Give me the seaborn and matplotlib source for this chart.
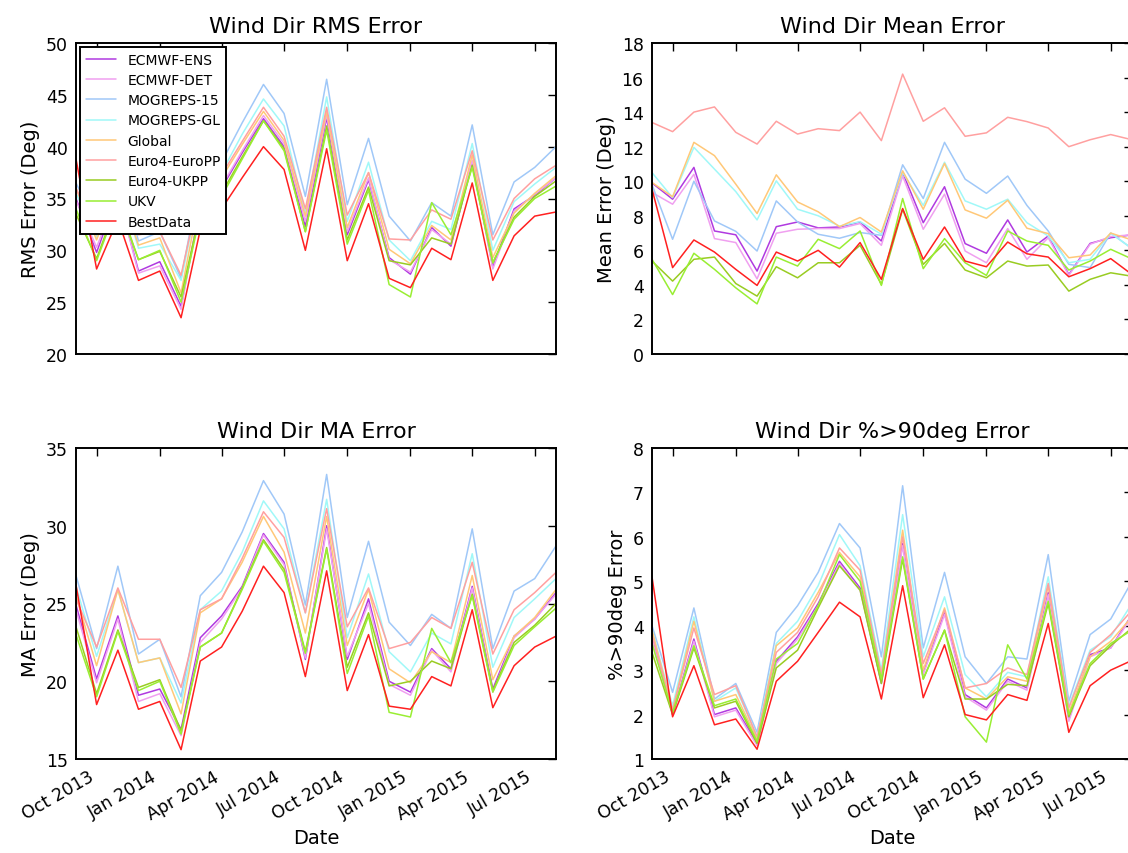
import pandas as pd
import matplotlib
matplotlib.use("Agg")
import matplotlib.pyplot as plt
import matplotlib.dates as mdates
from matplotlib.ticker import MultipleLocator
import seaborn as sns

# monthly verification dates
dates = pd.date_range("2013-09-01", "2015-08-01", freq="MS")

models = ["ECMWF-ENS", "ECMWF-DET", "MOGREPS-15", "MOGREPS-GL", "Global",
          "Euro4-EuroPP", "Euro4-UKPP", "UKV", "BestData"]
colors = ["#b03ae0", "#f0a0f0", "#a0c8f8", "#a0f8f8", "#ffc878",
          "#ffa0a0", "#99cc22", "#99ee33", "#ff2020"]

rms = {
    "ECMWF-ENS": [35.0, 29.8, 35.5, 28.0, 28.9, 24.6, 34.3, 36.0, 39.4, 42.7, 40.0, 32.3,
                  42.8, 31.5, 36.8, 29.3, 27.7, 32.2, 30.4, 38.5, 28.4, 34.0, 35.3, 37.0],
    "ECMWF-DET": [34.8, 30.3, 35.5, 27.8, 28.5, 24.3, 34.5, 36.2, 39.6, 43.0, 40.3, 32.8,
                  43.1, 31.8, 37.0, 29.1, 27.9, 32.0, 30.6, 38.7, 28.2, 33.8, 35.4, 37.0],
    "MOGREPS-15": [36.5, 32.5, 38.5, 30.9, 31.8, 27.3, 37.0, 38.5, 42.3, 46.0, 43.2, 35.2,
                   46.5, 34.4, 40.8, 33.3, 30.9, 34.6, 33.3, 42.1, 31.5, 36.6, 38.0, 40.0],
    "MOGREPS-GL": [35.5, 31.3, 37.0, 30.2, 30.6, 27.1, 36.0, 37.5, 41.2, 44.6, 42.0, 33.5,
                   44.8, 32.8, 38.5, 31.0, 29.0, 32.8, 32.0, 40.3, 30.0, 34.7, 36.4, 38.0],
    "Global": [36.0, 31.0, 36.5, 30.5, 31.2, 25.9, 35.5, 37.0, 40.2, 43.4, 40.6, 33.3,
               43.4, 32.2, 37.5, 30.1, 28.7, 32.4, 31.0, 39.2, 29.3, 33.6, 35.5, 37.2],
    "Euro4-EuroPP": [36.0, 31.5, 37.0, 31.5, 31.8, 27.6, 36.0, 37.3, 40.5, 43.8, 41.0, 34.0,
                     43.8, 33.4, 37.5, 31.1, 31.0, 33.9, 33.0, 39.6, 31.0, 35.0, 36.9, 38.2],
    "Euro4-UKPP": [33.5, 29.2, 34.8, 29.1, 29.9, 25.5, 33.8, 35.5, 39.0, 42.5, 39.8, 31.8,
                   42.0, 31.0, 36.1, 29.0, 28.6, 31.2, 30.6, 38.2, 28.8, 33.2, 35.2, 36.7],
    "UKV": [34.0, 29.0, 34.5, 29.1, 30.0, 25.0, 33.5, 35.2, 38.8, 42.5, 39.6, 31.8,
            41.6, 30.6, 35.8, 26.7, 25.5, 34.6, 31.5, 38.0, 28.8, 33.0, 35.0, 36.2],
    "BestData": [38.8, 28.2, 33.0, 27.1, 28.0, 23.5, 32.0, 34.0, 37.0, 40.0, 37.8, 30.0,
                 39.8, 29.0, 34.5, 27.3, 26.4, 30.2, 29.1, 36.5, 27.1, 31.4, 33.3, 33.7],
}

mean = {
    "ECMWF-ENS": [9.9, 8.96, 10.8, 7.12, 6.9, 4.8, 7.37, 7.64, 7.3, 7.35, 7.64, 6.54,
                  10.5, 7.6, 9.68, 6.39, 5.83, 7.76, 5.9, 6.83, 4.6, 6.4, 6.73, 6.9],
    "ECMWF-DET": [9.35, 8.67, 10.4, 6.68, 6.45, 4.35, 6.99, 7.22, 7.26, 7.26, 7.55, 6.29,
                  10.3, 7.22, 9.25, 5.96, 5.28, 7.26, 5.48, 6.73, 4.55, 6.35, 6.8, 6.9],
    "MOGREPS-15": [9.8, 6.64, 10.0, 7.7, 7.1, 5.96, 8.86, 7.64, 6.93, 6.7, 7.03, 6.87,
                   10.95, 9.0, 12.25, 10.12, 9.3, 10.3, 8.6, 7.12, 5.19, 5.0, 7.0, 6.1],
    "MOGREPS-GL": [10.5, 9.05, 11.96, 10.7, 9.4, 7.76, 10.02, 8.38, 8.0, 7.4, 7.66, 6.93,
                   10.5, 8.6, 11.1, 8.86, 8.38, 8.96, 7.6, 6.83, 5.28, 5.48, 7.0, 6.1],
    "Global": [9.93, 9.1, 12.25, 11.48, 9.83, 8.13, 10.37, 8.8, 8.23, 7.37, 7.9, 7.06,
               10.6, 8.38, 11.03, 8.34, 7.86, 8.9, 7.28, 6.97, 5.57, 5.73, 7.0, 6.6],
    "Euro4-EuroPP": [13.4, 12.87, 14.0, 14.3, 12.83, 12.15, 13.47, 12.73, 13.04, 12.93, 14.0, 12.35,
                     16.2, 13.47, 14.25, 12.6, 12.8, 13.7, 13.45, 13.08, 12.0, 12.4, 12.7, 12.4],
    "Euro4-UKPP": [5.38, 4.22, 5.48, 5.61, 4.08, 3.35, 5.05, 4.41, 5.28, 5.28, 6.29, 4.03,
                   8.38, 5.19, 6.4, 4.86, 4.41, 5.38, 5.09, 5.15, 3.64, 4.32, 4.7, 4.5],
    "UKV": [5.48, 3.44, 5.83, 4.9, 3.83, 2.9, 5.61, 5.09, 6.64, 6.1, 7.12, 3.97,
            9.0, 4.94, 6.68, 5.28, 4.55, 7.12, 6.54, 6.29, 4.86, 5.38, 6.06, 5.5],
    "BestData": [9.54, 5.0, 6.6, 5.9, 4.9, 3.97, 5.9, 5.38, 6.0, 5.03, 6.45, 4.32,
                 8.42, 5.48, 7.35, 5.38, 5.05, 6.48, 5.8, 5.61, 4.47, 4.94, 5.52, 4.6],
}

ma = {
    "ECMWF-ENS": [24.9, 20.15, 24.2, 19.1, 19.5, 16.9, 22.8, 24.2, 26.1, 29.5, 27.65, 21.4,
                  30.0, 21.4, 25.3, 20.0, 19.3, 22.1, 20.8, 26.1, 19.5, 22.9, 24.0, 25.7],
    "ECMWF-DET": [24.6, 19.9, 24.0, 18.7, 19.2, 16.5, 22.5, 24.0, 26.0, 29.4, 27.5, 21.5,
                  29.8, 21.6, 25.0, 19.8, 19.1, 22.0, 20.6, 26.0, 19.3, 22.8, 24.0, 25.6],
    "MOGREPS-15": [26.8, 22.1, 27.4, 21.75, 22.7, 19.0, 25.5, 27.0, 29.6, 32.9, 30.75, 24.9,
                   33.3, 24.1, 29.0, 23.8, 22.3, 24.3, 23.4, 29.8, 22.1, 25.8, 26.6, 28.7],
    "MOGREPS-GL": [26.1, 21.6, 25.9, 21.2, 21.5, 18.6, 24.6, 25.8, 28.3, 31.6, 29.8, 24.4,
                   31.7, 22.8, 26.9, 21.9, 20.6, 23.1, 22.4, 28.2, 20.9, 24.1, 25.3, 26.6],
    "Global": [25.5, 21.0, 25.9, 21.2, 21.5, 17.9, 24.4, 25.3, 27.65, 30.6, 28.3, 23.1,
               30.6, 22.3, 25.9, 20.8, 19.9, 21.9, 21.2, 26.8, 20.1, 22.9, 24.1, 25.9],
    "Euro4-EuroPP": [25.3, 22.2, 26.0, 22.7, 22.7, 19.6, 24.6, 25.3, 27.9, 30.9, 29.25, 24.4,
                     31.1, 23.5, 26.0, 22.1, 22.5, 24.1, 23.4, 27.65, 21.75, 24.6, 25.7, 27.0],
    "Euro4-UKPP": [23.5, 19.2, 23.3, 19.6, 20.1, 16.8, 22.2, 23.1, 26.0, 29.1, 27.2, 21.9,
                   28.6, 20.9, 24.4, 19.7, 20.0, 21.3, 20.8, 25.6, 19.4, 22.5, 23.6, 25.0],
    "UKV": [23.0, 19.0, 23.2, 19.4, 20.0, 16.6, 22.2, 23.1, 25.9, 29.0, 27.0, 21.8,
            28.5, 20.5, 24.2, 18.0, 17.7, 23.4, 21.2, 25.5, 19.3, 22.3, 23.5, 24.7],
    "BestData": [26.2, 18.5, 22.0, 18.2, 18.7, 15.6, 21.3, 22.2, 24.5, 27.4, 25.7, 20.3,
                 27.1, 19.4, 23.0, 18.4, 18.2, 20.3, 19.7, 24.6, 18.3, 21.0, 22.2, 22.9],
}

pct90 = {
    "ECMWF-ENS": [3.75, 2.0, 3.7, 2.0, 2.15, 1.35, 3.2, 3.75, 4.5, 5.45, 4.85, 2.7,
                  5.85, 2.95, 4.3, 2.45, 2.15, 2.8, 2.6, 4.75, 1.9, 3.35, 3.5, 4.25],
    "ECMWF-DET": [3.7, 1.98, 3.65, 1.95, 2.1, 1.3, 3.15, 3.7, 4.45, 5.4, 4.8, 2.75,
                  5.8, 2.9, 4.25, 2.4, 2.1, 2.75, 2.55, 4.7, 1.85, 3.3, 3.5, 4.2],
    "MOGREPS-15": [4.0, 2.5, 4.4, 2.35, 2.7, 1.6, 3.85, 4.45, 5.2, 6.3, 5.75, 3.3,
                   7.15, 3.5, 5.2, 3.3, 2.7, 3.3, 3.25, 5.6, 2.3, 3.8, 4.15, 5.0],
    "MOGREPS-GL": [3.9, 2.2, 4.2, 2.3, 2.6, 1.5, 3.6, 4.1, 4.9, 6.05, 5.35, 3.0,
                   6.5, 3.3, 4.65, 2.9, 2.4, 2.95, 2.85, 5.1, 2.2, 3.45, 3.75, 4.5],
    "Global": [3.9, 2.1, 4.1, 2.3, 2.45, 1.45, 3.55, 3.95, 4.75, 5.65, 5.1, 2.9,
               6.15, 3.0, 4.4, 2.6, 2.35, 2.85, 2.75, 4.9, 2.05, 3.3, 3.65, 4.2],
    "Euro4-EuroPP": [3.8, 2.1, 3.95, 2.45, 2.65, 1.5, 3.4, 3.85, 4.65, 5.75, 5.25, 2.9,
                     6.0, 3.15, 4.35, 2.6, 2.7, 3.05, 2.9, 4.95, 2.15, 3.4, 3.8, 4.35],
    "Euro4-UKPP": [3.4, 2.0, 3.5, 2.15, 2.3, 1.35, 3.05, 3.45, 4.4, 5.35, 4.8, 2.7,
                   5.5, 2.8, 3.9, 2.35, 2.35, 2.68, 2.65, 4.5, 1.95, 3.1, 3.55, 3.95],
    "UKV": [3.6, 2.05, 3.55, 2.2, 2.35, 1.4, 3.25, 3.6, 4.45, 5.6, 5.0, 2.8,
            5.55, 2.8, 3.9, 1.95, 1.38, 3.57, 2.8, 4.55, 2.0, 3.15, 3.6, 3.9],
    "BestData": [5.1, 1.95, 3.1, 1.77, 1.9, 1.22, 2.75, 3.2, 3.85, 4.53, 4.2, 2.35,
                 4.9, 2.38, 3.57, 2.0, 1.88, 2.45, 2.32, 4.05, 1.6, 2.65, 3.0, 3.22],
}

sns.set_style("white")
plt.rcParams["font.family"] = ["DejaVu Sans"]
plt.rcParams["text.color"] = "black"
plt.rcParams["axes.labelcolor"] = "black"
plt.rcParams["xtick.color"] = "black"
plt.rcParams["ytick.color"] = "black"

fig = plt.figure(figsize=(11.28, 8.54), dpi=100)
W, H = 1128, 854
# axes boxes in pixels: left, top, right, bottom
boxes = [(76, 44, 556, 355), (652, 44, 1132, 355),
         (76, 449, 556, 760), (652, 449, 1132, 760)]

panels = [
    (rms, "Wind Dir RMS Error", "RMS Error (Deg)", (20, 50), 5),
    (mean, "Wind Dir Mean Error", "Mean Error (Deg)", (0, 18), 2),
    (ma, "Wind Dir MA Error", "MA Error (Deg)", (15, 35), 5),
    (pct90, "Wind Dir %>90deg Error", "%>90deg Error", (1, 8), 1),
]

palette = dict(zip(models, colors))

for k, (data, title, ylabel, ylim, ystep) in enumerate(panels):
    l, t, r, b = boxes[k]
    ax = fig.add_axes([l / W, 1 - b / H, (r - l) / W, (b - t) / H])
    df = pd.DataFrame({"Date": list(dates) * len(models),
                       "Model": [m for m in models for _ in dates],
                       "Value": [v for m in models for v in data[m]]})
    sns.lineplot(data=df, x="Date", y="Value", hue="Model", hue_order=models,
                 palette=palette, linewidth=1.1, ax=ax, legend=False)
    ax.set_xlim(dates[0], dates[-1])
    ax.set_ylim(*ylim)
    ax.yaxis.set_major_locator(MultipleLocator(ystep))
    ax.set_title(title, fontsize=16, pad=8, color="black")
    ax.set_ylabel(ylabel, fontsize=14)
    ax.xaxis.set_major_locator(mdates.MonthLocator(bymonth=[1, 4, 7, 10]))
    ax.xaxis.set_major_formatter(mdates.DateFormatter("%b %Y"))
    ax.tick_params(direction="in", length=6, width=1, top=True, right=True,
                   labelsize=12.5, pad=6, colors="black")
    for s in ax.spines.values():
        s.set_linewidth(1.4)
        s.set_color("black")
    if k < 2:
        ax.set_xlabel("")
        ax.tick_params(labelbottom=False)
    else:
        ax.set_xlabel("Date", fontsize=14)
        plt.setp(ax.get_xticklabels(), rotation=30, ha="right")
    if k == 0:
        handles = [plt.Line2D([], [], color=c, linewidth=1.1) for c in colors]
        leg = ax.legend(handles, models, loc="upper left", fontsize=10,
                        fancybox=False, framealpha=1, edgecolor="black",
                        borderaxespad=0.3, handlelength=2.2, labelspacing=0.45)
        leg.get_frame().set_linewidth(1.4)

fig.savefig("out.png", dpi=100)
